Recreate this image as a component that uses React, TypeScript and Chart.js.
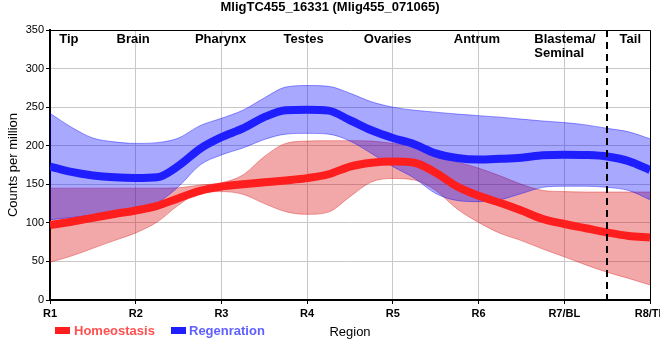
import React, { useEffect, useRef } from 'react';
import { Chart, registerables } from 'chart.js';

Chart.register(...registerables);

const FONT = "'Liberation Sans', Arial, Helvetica, sans-serif";

const xPositions = [1, 1.25, 1.5, 1.75, 2, 2.25, 2.5, 2.75, 3, 3.25, 3.5, 3.75, 4, 4.25, 4.5, 4.75, 5, 5.25, 5.5, 5.75, 6, 6.25, 6.5, 6.75, 7, 7.25, 7.5, 7.75, 8];
const tickLabels = ['R1', 'R2', 'R3', 'R4', 'R5', 'R6', 'R7/BL', 'R8/TL'];

const homeostasisMean = [97, 101.5, 106.5, 111.5, 116, 122, 132, 141.5, 147, 150, 152.5, 155, 158, 163, 173, 178, 179.5, 178, 165, 147, 135, 126, 116, 105, 98.5, 93, 87.5, 83, 81];
const homeostasisLower = [49, 57, 67, 77, 87, 101, 123, 139, 140.5, 137, 125, 114.5, 111, 114, 134, 153, 157.5, 155.5, 142, 118, 100.5, 86.5, 77, 66, 56, 45.5, 36, 28, 19.5];
const homeostasisUpper = [145, 145, 145, 145, 145, 145, 145.5, 149, 152, 162, 186, 203, 206, 206.5, 206.5, 206, 203, 199.5, 188, 179, 171, 161, 150, 142, 140.5, 140, 140, 140, 140];
const regenerationMean = [173, 166, 161.5, 159, 158, 159, 174, 196, 211, 222.5, 237, 246, 246.7, 245.5, 233, 220, 210, 202, 190, 184, 182, 183, 184.5, 187.5, 188.4, 188, 186, 180, 168.5];
const regenerationLower = [104, 107, 110, 114, 119, 126, 147, 175, 188, 197, 208, 215, 216, 215, 206, 190, 173, 158, 138, 129, 127.5, 130, 138, 146, 147.5, 147.5, 146, 142, 130];
const regenerationUpper = [242, 224, 210, 205, 203, 204, 210, 226, 235.5, 246, 262, 276, 278, 277, 268, 257, 250, 246, 243.5, 241, 239, 237, 234.5, 232, 230, 227, 222.5, 218, 209];

const regionLabels = [['Tip'], ['Brain'], ['Pharynx'], ['Testes'], ['Ovaries'], ['Antrum'], ['Blastema/', 'Seminal'], ['Tail']];
const regionX = [1.22, 1.97, 2.99, 3.96, 4.94, 5.98, 6.65, 7.77];
const regionAlign = ['center', 'center', 'center', 'center', 'center', 'center', 'left', 'center'];
const tailBoundary = 7.5;

const seriesNames = ['Homeostasis', 'Regenration'];
const axisTitleX = 'Region';
const axisTitleY = 'Counts per million';
const chartTitle = 'MligTC455_16331 (Mlig455_071065)';

const toXY = (arr: number[]) => arr.map((y, i) => ({ x: xPositions[i], y }));

const RED_LINE = 'rgb(255, 30, 30)';
const BLUE_LINE = 'rgb(30, 30, 255)';
const RED_BAND = 'rgba(217, 0, 0, 0.34)';
const BLUE_BAND = 'rgba(0, 0, 255, 0.34)';
const RED_EDGE = 'rgba(217, 0, 0, 0.35)';
const BLUE_EDGE = 'rgba(0, 0, 255, 0.4)';

const decorPlugin = {
  id: 'decor',
  afterDatasetsDraw(chart: any) {
    const { ctx, chartArea: a, scales } = chart;
    const x = scales.x;
    ctx.save();
    ctx.strokeStyle = '#000';
    ctx.lineWidth = 1;
    ctx.beginPath();
    ctx.moveTo(a.left, a.top + 0.5);
    ctx.lineTo(a.right + 0.5, a.top + 0.5);
    ctx.lineTo(a.right + 0.5, a.bottom);
    ctx.stroke();
    const dx = Math.round(x.getPixelForValue(tailBoundary));
    ctx.setLineDash([7, 5]);
    ctx.lineWidth = 2;
    ctx.beginPath();
    ctx.moveTo(dx, a.top);
    ctx.lineTo(dx, a.bottom + 5);
    ctx.stroke();
    ctx.setLineDash([]);
    ctx.fillStyle = '#000';
    ctx.font = `bold 13px ${FONT}`;
    ctx.textBaseline = 'alphabetic';
    regionLabels.forEach((lines, i) => {
      ctx.textAlign = regionAlign[i];
      const px = x.getPixelForValue(regionX[i]);
      lines.forEach((t, j) => ctx.fillText(t, px, a.top + 13 + j * 14));
    });
    ctx.restore();
  },
  afterDraw(chart: any) {
    const { ctx, chartArea: a, height } = chart;
    ctx.save();
    const boxY = height - 33;
    const baseY = height - 25;
    ctx.fillStyle = RED_LINE;
    ctx.fillRect(55, boxY, 15, 7);
    ctx.fillStyle = BLUE_LINE;
    ctx.fillRect(171, boxY, 15, 7);
    ctx.font = `bold 13px ${FONT}`;
    ctx.textAlign = 'left';
    ctx.textBaseline = 'alphabetic';
    ctx.fillStyle = '#ff5050';
    ctx.fillText(seriesNames[0], 74, baseY);
    ctx.fillStyle = '#6060ff';
    ctx.fillText(seriesNames[1], 189, baseY);
    ctx.fillStyle = '#000';
    ctx.font = `13px ${FONT}`;
    ctx.textAlign = 'center';
    ctx.fillText(axisTitleX, (a.left + a.right) / 2, baseY + 1);
    ctx.restore();
  },
};

export default function App() {
  const ref = useRef<HTMLCanvasElement | null>(null);
  useEffect(() => {
    if (!ref.current) return;
    Chart.defaults.font.family = FONT;
    Chart.defaults.color = '#000';
    const common = { pointRadius: 0, pointHoverRadius: 0, cubicInterpolationMode: 'monotone' as const };
    const chart = new Chart(ref.current, {
      type: 'line',
      data: {
        datasets: [
          { ...common, label: seriesNames[0], data: toXY(homeostasisMean), borderColor: RED_LINE, borderWidth: 8, fill: false, borderCapStyle: 'butt' },
          { ...common, label: seriesNames[1], data: toXY(regenerationMean), borderColor: BLUE_LINE, borderWidth: 8, fill: false, borderCapStyle: 'butt' },
          { ...common, label: 'regLower', data: toXY(regenerationLower), borderColor: BLUE_EDGE, borderWidth: 1, fill: false },
          { ...common, label: 'regUpper', data: toXY(regenerationUpper), borderColor: BLUE_EDGE, borderWidth: 1, fill: '-1', backgroundColor: BLUE_BAND },
          { ...common, label: 'homLower', data: toXY(homeostasisLower), borderColor: RED_EDGE, borderWidth: 1, fill: false },
          { ...common, label: 'homUpper', data: toXY(homeostasisUpper), borderColor: RED_EDGE, borderWidth: 1, fill: '-1', backgroundColor: RED_BAND },
        ],
      },
      options: {
        responsive: false,
        animation: false,
        devicePixelRatio: 1,
        layout: { padding: 0 },
        plugins: {
          legend: { display: false },
          tooltip: { enabled: false },
          title: {
            display: true,
            text: chartTitle,
            color: '#000',
            font: { size: 13, weight: 'bold', family: FONT },
            padding: { top: 0, bottom: 14.4 },
          },
        },
        scales: {
          x: {
            type: 'linear',
            min: 1,
            max: 8,
            afterFit: (s: any) => { s.paddingRight = 10; s.height = 60; },
            ticks: {
              stepSize: 1,
              autoSkip: false,
              maxRotation: 0,
              padding: 3,
              color: '#000',
              font: { size: 11, weight: 'bold', family: FONT },
              callback: (v: any) => tickLabels[Math.round(Number(v)) - 1] ?? '',
            },
            grid: { color: '#c8c8c8', tickColor: '#000', tickLength: 4 },
            border: { color: '#000', width: 2 },
          },
          y: {
            min: 0,
            max: 350,
            afterFit: (s: any) => { s.width = 50; },
            ticks: { stepSize: 50, padding: 2, color: '#000', font: { size: 11, family: FONT } },
            grid: { color: '#c8c8c8', tickColor: '#000', tickLength: 4 },
            border: { color: '#000', width: 2 },
            title: { display: true, text: axisTitleY, color: '#000', font: { size: 13, family: FONT }, padding: { top: 6, bottom: 0 } },
          },
        },
      },
      plugins: [decorPlugin],
    } as any);
    return () => chart.destroy();
  }, []);
  return (
    <div style={{ position: 'fixed', left: 0, top: 0, width: 660, height: 360, overflow: 'hidden', background: '#fff' }}>
      <canvas ref={ref} width={660} height={360} style={{ display: 'block', width: 660, height: 360 }} />
    </div>
  );
}
